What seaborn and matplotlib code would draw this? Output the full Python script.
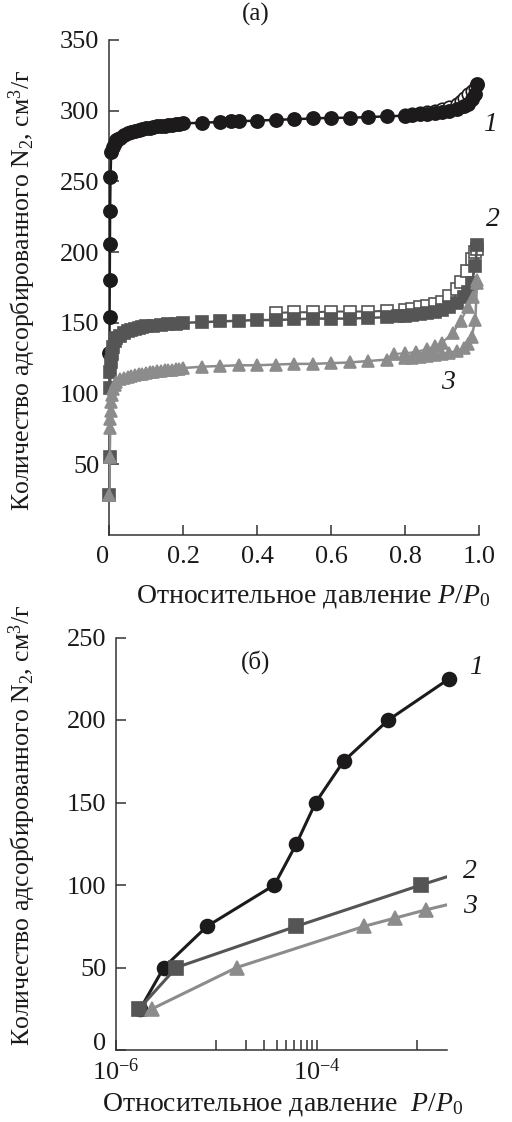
import numpy as np
import pandas as pd
import matplotlib
matplotlib.use("Agg")
import matplotlib.pyplot as plt
import matplotlib.ticker as mticker
import seaborn as sns

# ---------------- data: panel (a) ----------------
x1_ads = [0.001, 0.0015, 0.002, 0.0025, 0.003, 0.004, 0.006, 0.01, 0.015, 0.02, 0.025, 0.03, 0.04, 0.05,
          0.06, 0.07, 0.08, 0.09, 0.10, 0.11, 0.12, 0.13, 0.14, 0.15, 0.16, 0.17, 0.18, 0.19, 0.20,
          0.25, 0.30, 0.33, 0.35, 0.40, 0.45, 0.50, 0.55, 0.60, 0.65, 0.70, 0.75, 0.80, 0.82, 0.84,
          0.86, 0.88, 0.90, 0.92, 0.94, 0.96, 0.97, 0.98, 0.99, 0.995]
y1_ads = [129, 154, 180, 206, 229, 253, 271, 274, 277, 279, 280, 281, 283, 284,
          285, 286, 286.5, 287, 287.5, 288, 288.5, 289, 289, 289.5, 290, 290, 290.5, 290.5, 291,
          291.5, 292, 292.5, 292.5, 293, 293.5, 294, 294.5, 295, 295, 295.5, 296, 296.5, 297, 297.5,
          298, 298.5, 299, 300, 301.5, 303.5, 305, 308, 312, 319]
x1_des = [0.80, 0.82, 0.84, 0.86, 0.88, 0.90, 0.92, 0.94, 0.95, 0.96, 0.97, 0.98, 0.99, 0.995]
y1_des = [297, 298, 298.5, 299, 300, 301, 302.5, 305, 307, 309, 312, 314, 316, 318]

x2_ads = [0.001, 0.002, 0.003, 0.004, 0.005, 0.007, 0.01, 0.015, 0.02, 0.03, 0.04, 0.05, 0.06, 0.07,
          0.08, 0.09, 0.10, 0.12, 0.14, 0.16, 0.18, 0.20, 0.25, 0.30, 0.35, 0.40, 0.45, 0.50, 0.55,
          0.60, 0.65, 0.70, 0.75, 0.78, 0.80, 0.82, 0.84, 0.86, 0.88, 0.90, 0.92, 0.94, 0.96, 0.97,
          0.98, 0.99, 0.995]
y2_ads = [28, 55, 104, 115, 122, 128, 133, 137, 139, 141, 143, 144, 145, 146,
          146.5, 147, 147.5, 148, 148.5, 149, 149.5, 150, 150.5, 151, 151.5, 152, 152, 152.5, 153,
          153, 153, 153.5, 154, 154.5, 155, 155.5, 156, 157, 158, 159, 161, 164, 168, 172,
          178, 190, 205]
x2_des = [0.45, 0.50, 0.55, 0.60, 0.65, 0.70, 0.75, 0.80, 0.82, 0.84, 0.86, 0.88, 0.90, 0.92,
          0.94, 0.95, 0.967, 0.98, 0.99, 0.995]
y2_des = [157, 157.5, 157.5, 158, 158, 158, 158.5, 159, 160, 161, 162, 163, 165, 169,
          174, 179, 187, 195, 200, 202]

x3_ads = [0.001, 0.002, 0.003, 0.004, 0.005, 0.006, 0.008, 0.01, 0.015, 0.02, 0.03, 0.04, 0.05,
          0.06, 0.07, 0.08, 0.09, 0.10, 0.11, 0.12, 0.13, 0.14, 0.15, 0.16, 0.17, 0.18, 0.19, 0.20,
          0.25, 0.30, 0.35, 0.40, 0.45, 0.50, 0.55, 0.60, 0.65, 0.70, 0.75, 0.80, 0.82, 0.84, 0.86,
          0.88, 0.90, 0.92, 0.94, 0.96, 0.97, 0.98, 0.99, 0.995]
y3_ads = [28, 55, 76, 82, 88, 94, 99, 103, 106, 108, 110, 111, 112,
          112.5, 113, 113.5, 114, 114.5, 115, 115.5, 116, 116, 116.5, 117, 117, 117.5, 117.5, 118,
          119, 119.5, 120, 120, 120.5, 121, 121, 121.5, 122, 123, 124, 125, 125.5, 126, 126.5,
          127, 128, 129, 130, 132, 135, 140, 152, 180]
x3_des = [0.77, 0.80, 0.83, 0.86, 0.88, 0.90, 0.93, 0.95, 0.97, 0.985, 0.995]
y3_des = [128, 128.5, 129.5, 131.5, 133.5, 136, 143, 151, 161, 168, 178]

xticks_a = [0, 0.2, 0.4, 0.6, 0.8, 1.0]
xticklabels_a = ["0", "0.2", "0.4", "0.6", "0.8", "1.0"]
yticks_a = [50, 100, 150, 200, 250, 300, 350]

# ---------------- data: panel (б) ----------------
bx1 = [1.75e-6, 3.0e-6, 8.1e-6, 3.8e-5, 6.3e-5, 9.8e-5, 1.86e-4, 5.2e-4, 2.1e-3]
by1 = [25, 50, 75, 100, 125, 150, 175, 200, 225]
bx2 = [1.7e-6, 4.0e-6, 6.3e-5, 1.1e-3]
by2 = [25, 50, 75, 100]
bx2_line_end = [2.0e-3]
by2_line_end = [105]
bx3 = [2.3e-6, 1.6e-5, 3.0e-4, 6.1e-4, 1.24e-3]
by3 = [25, 50, 75, 80, 85]
bx3_line_end = [2.0e-3]
by3_line_end = [88]

yticks_b = [0, 50, 100, 150, 200, 250]

# ---------------- style ----------------
sns.set_theme(style="ticks")
plt.rcParams["font.family"] = ["Liberation Serif", "DejaVu Serif"]
plt.rcParams["mathtext.fontset"] = "custom"
plt.rcParams["mathtext.rm"] = "Liberation Serif"
plt.rcParams["mathtext.it"] = "Liberation Serif:italic"
plt.rcParams["mathtext.bf"] = "Liberation Serif:bold"

C1 = "#1c1a1b"
C2 = "#555555"
C3 = "#8c8c8c"
SPINE = "#333333"
FS_TICK = 19
FS_LAB = 20
FS_YLAB = 18.5
TXT = "#1a1a1a"

fig = plt.figure(figsize=(5.12, 11.22), dpi=100)
W, H = 512.0, 1122.0

ax1 = fig.add_axes([109 / W, 1 - 535 / H, 370 / W, (535 - 40) / H])
ax2 = fig.add_axes([116 / W, 1 - 1050 / H, 331 / W, (1050 - 637.5) / H])


def line(ax, x, y, color, lw, z):
    sns.lineplot(x=x, y=y, ax=ax, color=color, linewidth=lw, sort=False,
                 estimator=None, zorder=z, legend=False)


def marks(ax, x, y, marker, ms, color, filled=True, z=3):
    sns.lineplot(x=x, y=y, ax=ax, linestyle="", marker=marker, markersize=ms,
                 markerfacecolor=color if filled else "white", markeredgecolor=color,
                 markeredgewidth=1.2, color=color, sort=False, estimator=None,
                 zorder=z, legend=False, clip_on=False)


# panel (a)
line(ax1, x1_des, y1_des, C1, 1.5, 2)
marks(ax1, x1_des, y1_des, "o", 9, C1, filled=False, z=3)
line(ax1, x1_ads, y1_ads, C1, 1.8, 4)
marks(ax1, x1_ads, y1_ads, "o", 9.5, C1, z=4)

line(ax1, x2_des, y2_des, C2, 1.5, 5)
marks(ax1, x2_des, y2_des, "s", 8, C2, filled=False, z=5)
line(ax1, x2_ads, y2_ads, C2, 1.8, 6)
marks(ax1, x2_ads, y2_ads, "s", 8.5, C2, z=6)

line(ax1, x3_des, y3_des, C3, 1.5, 7)
marks(ax1, x3_des, y3_des, "^", 8, C3, z=7)
line(ax1, x3_ads, y3_ads, C3, 1.8, 8)
marks(ax1, x3_ads, y3_ads, "^", 8, C3, z=8)

ax1.set_xlim(0, 1.0)
ax1.set_ylim(0, 350)
ax1.set_xticks(xticks_a)
ax1.set_xticklabels(xticklabels_a)
ax1.set_yticks(yticks_a)
ax1.get_xticklabels()[0].set_horizontalalignment("right")

ax1.text(1.012, 290, "1", fontsize=FS_LAB, style="italic", ha="left", va="center", color=TXT)
ax1.text(1.02, 223, "2", fontsize=FS_LAB, style="italic", ha="left", va="center", color=TXT)
ax1.text(0.915, 108, "3", fontsize=FS_LAB, style="italic", ha="center", va="center", color=TXT)

# panel (б)
line(ax2, bx1, by1, C1, 2.2, 2)
marks(ax2, bx1, by1, "o", 10, C1, z=3)
line(ax2, bx2 + bx2_line_end, by2 + by2_line_end, C2, 2.2, 4)
marks(ax2, bx2, by2, "s", 9.5, C2, z=5)
line(ax2, bx3 + bx3_line_end, by3 + by3_line_end, C3, 2.2, 6)
marks(ax2, bx3, by3, "^", 10, C3, z=7)

ax2.set_xscale("log")
ax2.set_xlim(1e-6, 2e-3)
ax2.set_ylim(0, 250)
ax2.set_yticks(yticks_b)
ax2.xaxis.set_major_locator(mticker.FixedLocator([1e-6, 1e-5, 1e-4, 1e-3]))
ax2.xaxis.set_major_formatter(mticker.FixedFormatter(["$10^{-6}$", "", "$10^{-4}$", ""]))
ax2.xaxis.set_minor_locator(mticker.FixedLocator([k * 1e-5 for k in range(2, 10)]))
ax2.xaxis.set_minor_formatter(mticker.NullFormatter())

ax2.text(3.3e-3, 232, "1", fontsize=FS_LAB, style="italic", ha="left", va="center", color=TXT)
ax2.text(2.9e-3, 108, "2", fontsize=FS_LAB, style="italic", ha="left", va="center", color=TXT)
ax2.text(2.9e-3, 87, "3", fontsize=FS_LAB, style="italic", ha="left", va="center", color=TXT)

for ax in (ax1, ax2):
    sns.despine(ax=ax)
    for s in ("left", "bottom"):
        ax.spines[s].set_color(SPINE)
        ax.spines[s].set_linewidth(1.1)
    ax.tick_params(axis="both", which="both", direction="in", color=SPINE,
                   width=1.1, labelsize=FS_TICK, labelcolor=TXT)
    ax.tick_params(axis="both", which="major", length=7)
    ax.tick_params(axis="both", which="minor", length=7)
    ax.tick_params(axis="y", pad=7)
    ax.tick_params(axis="x", pad=8)
    ax.set_xlabel("")
    ax.set_ylabel("")
ax2.tick_params(axis="x", pad=6)
ax2.get_yticklabels()[0].set_verticalalignment("baseline")

ylab = "Количество адсорбированного N$_2$, см$^3$/г"
xlab = "Относительное давление $P/P_0$"
fig.text(22 / W, 1 - 290 / H, ylab, rotation=90, ha="center", va="center", fontsize=FS_YLAB, color=TXT)
fig.text(22 / W, 1 - 825 / H, ylab, rotation=90, ha="center", va="center", fontsize=FS_YLAB, color=TXT)
fig.text(313 / W, 1 - 597 / H, xlab, ha="center", va="center", fontsize=FS_LAB, color=TXT)
fig.text(283 / W, 1 - 1104 / H, "Относительное давление  $P/P_0$", ha="center", va="center",
         fontsize=FS_LAB, color=TXT)
fig.text(256 / W, 1 - 14 / H, "(a)", ha="center", va="center", fontsize=18, color=TXT)
fig.text(256 / W, 1 - 662 / H, "(б)", ha="center", va="center", fontsize=18, color=TXT)

fig.savefig("out.png", dpi=100)
